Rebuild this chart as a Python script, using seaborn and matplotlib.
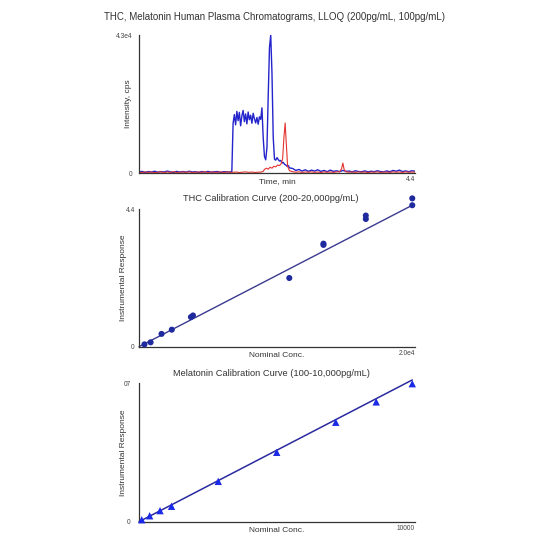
import matplotlib
matplotlib.use("Agg")
import matplotlib.pyplot as plt
import seaborn as sns

# chromatogram, blue trace (THC)
blue_time = [0.00, 0.05, 0.10, 0.15, 0.20, 0.25, 0.30, 0.35, 0.40, 0.45,
             0.50, 0.55, 0.60, 0.65, 0.70, 0.75, 0.80, 0.85, 0.90, 0.95,
             1.00, 1.05, 1.10, 1.15, 1.20, 1.25, 1.30, 1.35, 1.40, 1.45,
             1.48, 1.50, 1.52, 1.54, 1.56, 1.58, 1.60, 1.62, 1.64, 1.66,
             1.68, 1.70, 1.72, 1.74, 1.76, 1.78, 1.80, 1.82, 1.84, 1.86,
             1.88, 1.90, 1.92, 1.94, 1.96, 1.98, 2.00, 2.02, 2.04, 2.06,
             2.08, 2.10, 2.12, 2.14, 2.16, 2.18, 2.20, 2.22, 2.24, 2.26,
             2.28, 2.30, 2.32, 2.34, 2.36, 2.38, 2.40,
             2.45, 2.50, 2.55, 2.60, 2.65, 2.70, 2.75, 2.80, 2.85, 2.90,
             2.95, 3.00, 3.05, 3.10, 3.15, 3.20, 3.25, 3.30, 3.35, 3.40,
             3.45, 3.50, 3.55, 3.60, 3.65, 3.70, 3.75, 3.80, 3.85, 3.90,
             3.95, 4.00, 4.05, 4.10, 4.15, 4.20, 4.25, 4.30, 4.35, 4.40]
blue_cps = [300, 500, 200, 450, 300, 550, 250, 450, 300, 600,
            350, 200, 500, 300, 450, 250, 550, 300, 400, 200,
            450, 300, 500, 250, 400, 450, 200, 400, 350, 300,
            500, 15500, 18200, 15000, 19200, 16300, 18900, 14700, 17800, 19500,
            16000, 18400, 15300, 19000, 16600, 18000, 15500, 18600, 16900, 15600,
            17300, 15200, 17500, 16700, 20300, 11000, 5200, 4100, 8000, 24000,
            39000, 43000, 31000, 11000, 4300, 4000, 4800, 4200, 3700, 3900,
            3100, 3300, 2700, 2500, 2100, 2300, 1600,
            1400, 800, 1100, 600, 1000, 500, 900, 600, 1000, 500,
            800, 400, 900, 500, 700, 400, 800, 500, 600, 350,
            700, 450, 400, 650, 350, 550, 400, 700, 450, 350,
            650, 400, 800, 550, 900, 450, 650, 400, 700, 550]

# chromatogram, red trace (melatonin)
red_time = [0.00, 0.05, 0.10, 0.15, 0.20, 0.25, 0.30, 0.35, 0.40, 0.45,
            0.50, 0.55, 0.60, 0.65, 0.70, 0.75, 0.80, 0.85, 0.90, 0.95,
            1.00, 1.05, 1.10, 1.15, 1.20, 1.25, 1.30, 1.35, 1.40, 1.45,
            1.50, 1.55, 1.60, 1.65, 1.70, 1.75, 1.80, 1.85, 1.90, 1.95,
            1.98, 2.00, 2.03, 2.06, 2.09, 2.12, 2.15, 2.18, 2.21, 2.24,
            2.27, 2.29, 2.31, 2.33, 2.35, 2.37, 2.40, 2.45, 2.50, 2.55,
            2.60, 2.65, 2.70, 2.75, 2.80, 2.85, 2.90, 2.95, 3.00, 3.05,
            3.10, 3.15, 3.20, 3.23, 3.25, 3.27, 3.30, 3.35, 3.40, 3.45,
            3.50, 3.55, 3.60, 3.65, 3.70, 3.75, 3.80, 3.85, 3.90, 3.95,
            4.00, 4.05, 4.10, 4.15, 4.20, 4.25, 4.30, 4.35, 4.40]
red_cps = [250, 150, 350, 200, 300, 100, 250, 350, 150, 300,
           200, 400, 150, 250, 300, 200, 350, 150, 250, 300,
           200, 400, 150, 300, 250, 200, 350, 150, 300, 250,
           200, 300, 150, 250, 350, 200, 300, 150, 250, 300,
           500, 1100, 1500, 1200, 1800, 1500, 2100, 1900, 2500, 2300,
           3000, 4500, 11000, 15600, 8500, 2000, 700, 400, 250, 350,
           200, 300, 250, 350, 200, 300, 150, 350, 250, 300,
           200, 350, 400, 1400, 3100, 1100, 350, 250, 300, 200,
           350, 250, 300, 150, 300, 250, 350, 200, 300, 250,
           200, 350, 250, 300, 200, 350, 250, 300, 250]

# THC calibration
thc_conc = [400, 850, 1650, 2400, 3800, 3950, 11000, 13500, 13500, 16600, 16600, 20000, 20000]
thc_resp = [0.075, 0.14, 0.41, 0.545, 0.95, 1.00, 2.2, 3.30, 3.26, 4.20, 4.09, 4.75, 4.53]
thc_fit_x = [0, 20000]
thc_slope, thc_icpt = 2.265e-4, 0.0

# Melatonin calibration
mel_conc = [100, 390, 770, 1190, 2900, 5040, 7200, 8680, 10000]
mel_resp = [0.01, 0.030, 0.056, 0.078, 0.204, 0.351, 0.503, 0.606, 0.698]
mel_fit_x = [0, 10000]
mel_slope, mel_icpt = 7.17e-5, 0.0

sns.set_style("white")
plt.rcParams['font.family'] = ['Liberation Sans', 'DejaVu Sans']

W = 550.0
fig = plt.figure(figsize=(5.5, 5.5), dpi=100)

def px_axes(left, top, right, bottom):
    return fig.add_axes([left / W, 1 - bottom / W, (right - left) / W, (bottom - top) / W])

def style(ax, xmax, xlab, ymax, ylabs, ylabel, ylab_x, ypad):
    for s in ['top', 'right']:
        ax.spines[s].set_visible(False)
    for s in ['left', 'bottom']:
        ax.spines[s].set_color('#333333')
        ax.spines[s].set_linewidth(0.9)
    ax.set_xlim(0, xmax)
    ax.set_ylim(0, ymax)
    ax.set_xticks([xmax])
    ax.set_xticklabels([xlab], ha='right')
    ax.set_yticks([0, ymax])
    ax.set_yticklabels(ylabs)
    ax.tick_params(axis='both', length=0, labelsize=4.8, labelcolor='#444444')
    ax.tick_params(axis='x', pad=2.5)
    ax.tick_params(axis='y', pad=ypad)
    ax.set_ylabel(ylabel, fontsize=6, color='#333333')
    ax.yaxis.set_label_coords(ylab_x, 0.5)

# --- chromatogram
ax1 = px_axes(139, 35, 415, 173)
sns.lineplot(x=blue_time, y=blue_cps, ax=ax1, color='#2424cc', lw=1.0, sort=False, estimator=None)
sns.lineplot(x=red_time, y=red_cps, ax=ax1, color='#e3342f', lw=0.8, sort=False, estimator=None)
style(ax1, 4.4, '4.4', 43000, ['0', '4.3e4'], 'Intensity, cps', -0.025, 5)
ax1.set_xlabel('Time, min', fontsize=6, color='#333333')
ax1.xaxis.set_label_coords(0.5, -0.035)
fig.text(275 / W, 1 - 17.5 / W, 'THC, Melatonin Human Plasma Chromatograms, LLOQ (200pg/mL, 100pg/mL)',
         ha='center', va='center', fontsize=7.0, color='#333333')

# --- THC calibration
ax2 = px_axes(139, 209.3, 415, 346.7)
ax2.plot(thc_fit_x, [thc_slope * x + thc_icpt for x in thc_fit_x], color='#3a3a90', lw=1.0, clip_on=False)
sns.scatterplot(x=thc_conc, y=thc_resp, ax=ax2, color='#1f2a9e', s=19, edgecolor='none', clip_on=False, zorder=3)
style(ax2, 20200, '2.0e4', 4.4, ['0', '4.4'], 'Instrumental Response', -0.042, 3)
ax2.set_xlabel('Nominal Conc.', fontsize=6, color='#333333')
ax2.xaxis.set_label_coords(0.5, -0.035)
fig.text(271 / W, 1 - 198.3 / W, 'THC Calibration Curve (200-20,000pg/mL)',
         ha='center', va='center', fontsize=6.7, color='#333333')

# --- Melatonin calibration
ax3 = px_axes(139, 383.3, 415, 521.7)
ax3.plot(mel_fit_x, [mel_slope * x + mel_icpt for x in mel_fit_x], color='#2a2aa0', lw=1.1, clip_on=False)
sns.scatterplot(x=mel_conc, y=mel_resp, ax=ax3, color='#1a2ae6', marker='^', s=28, edgecolor='none', clip_on=False, zorder=3)
style(ax3, 10100, '10000', 0.7, ['0', '07'], 'Instrumental Response', -0.045, 6)
ax3.set_xlabel('Nominal Conc.', fontsize=6, color='#333333')
ax3.xaxis.set_label_coords(0.5, -0.035)
fig.text(271 / W, 1 - 373.3 / W, 'Melatonin Calibration Curve (100-10,000pg/mL)',
         ha='center', va='center', fontsize=6.7, color='#333333')

fig.savefig('out.png', dpi=100)
